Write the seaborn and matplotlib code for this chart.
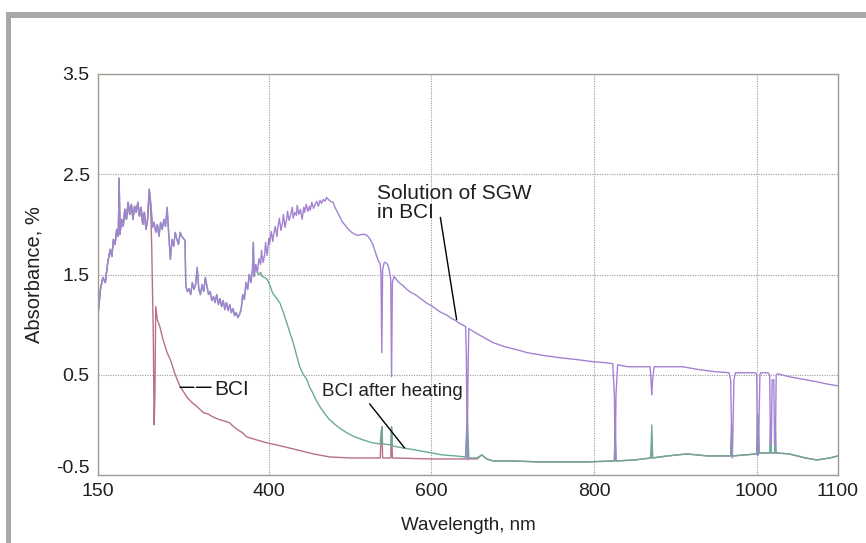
import matplotlib
matplotlib.use("Agg")
import matplotlib.pyplot as plt
import matplotlib.transforms as mtransforms
import pandas as pd
import seaborn as sns
from matplotlib.patches import Rectangle

# ---------------- data ----------------
# shared noisy UV part of all three spectra
common_wl = [190, 193, 196, 199, 202, 205, 207, 209, 211, 213, 215, 216, 217, 219, 221, 223, 225, 227, 229, 231,
             233, 235, 237, 239, 241, 243, 245, 247, 249, 251, 253]
common_abs = [1.10, 1.35, 1.47, 1.42, 1.62, 1.75, 1.68, 1.85, 1.80, 1.95, 1.88, 2.46, 1.90, 2.05, 1.98, 2.15, 2.05, 2.22, 2.10, 2.20,
              2.05, 2.18, 2.12, 2.22, 2.08, 2.17, 2.00, 2.12, 1.95, 2.05, 2.35]

# part shared by "Solution of SGW in BCI" and "BCI after heating"
mid_wl = [255, 257, 259, 261, 263, 265, 267, 269, 271, 273, 275, 277, 279, 281, 283, 285, 287, 289, 291, 293,
          295, 297, 298, 300, 302, 304, 306, 308, 310, 312, 314, 316, 318, 320, 322, 324, 326, 328, 330, 332,
          334, 336, 338, 340, 342, 344, 346, 348, 350, 352, 354, 356, 358, 360, 362, 364, 366, 368, 370, 372,
          374, 376, 378, 380, 381, 382, 384, 386]
mid_abs = [2.20, 1.97, 2.02, 1.92, 2.00, 1.88, 2.02, 1.95, 2.05, 1.98, 2.17, 1.90, 1.65, 1.85, 1.78, 1.92, 1.85, 1.80, 1.92, 1.88,
           1.86, 1.84, 1.38, 1.33, 1.36, 1.30, 1.42, 1.35, 1.40, 1.57, 1.35, 1.30, 1.40, 1.33, 1.47, 1.38, 1.30, 1.33, 1.24, 1.28,
           1.22, 1.30, 1.20, 1.26, 1.18, 1.24, 1.15, 1.22, 1.14, 1.20, 1.12, 1.16, 1.09, 1.12, 1.07, 1.10, 1.15, 1.30, 1.25, 1.42,
           1.35, 1.50, 1.42, 1.55, 1.82, 1.48, 1.60, 1.52]

# Solution of SGW in BCI
sgw_wl = [388, 390, 391, 393, 395, 396, 398, 400, 401, 403, 405, 406, 408, 410, 411, 413, 415, 417, 418, 420,
          422, 423, 425, 427, 429, 430, 432, 434, 435, 437, 439, 441, 443, 444, 446, 448, 450, 451, 453, 455,
          457, 459, 461, 463, 465, 467, 469, 471, 473, 476,
          479, 482, 486, 490, 494, 498, 502, 506, 510, 514, 518, 521, 524, 528, 532,
          535, 537, 538, 539, 540, 542, 544, 546, 548, 550, 551, 552, 554, 557, 560, 565, 570, 575, 580, 585,
          590, 595, 600, 605, 610, 615, 620, 625, 630, 635, 640, 642, 643, 644, 645, 646, 650, 656, 665, 676,
          690, 705, 718, 740, 758, 780, 799, 815, 823, 825, 826, 827, 829, 841, 855, 869, 870, 871, 872, 874,
          890, 909, 930, 950, 966, 968, 969, 970, 971, 972, 974, 985, 998, 1000, 1001, 1002, 1004, 1005, 1014, 1016,
          1017, 1018, 1019, 1021, 1022, 1023, 1024, 1026, 1040, 1060, 1074, 1085, 1092, 1100]
sgw_abs = [1.66, 1.60, 1.74, 1.62, 1.70, 1.82, 1.69, 1.86, 1.80, 1.93, 1.83, 1.90, 1.98, 1.88, 1.96, 2.06, 1.94, 2.02, 2.10, 1.97,
           2.05, 2.13, 2.04, 2.10, 2.17, 2.06, 2.12, 2.09, 2.19, 2.10, 2.15, 2.05, 2.17, 2.12, 2.20, 2.13, 2.18, 2.14, 2.22, 2.16,
           2.20, 2.23, 2.18, 2.24, 2.21, 2.25, 2.23, 2.27, 2.25, 2.23,
           2.22, 2.16, 2.10, 2.03, 1.99, 1.95, 1.92, 1.90, 1.89, 1.90, 1.90, 1.89, 1.86, 1.80, 1.70,
           1.63, 1.61, 1.50, 0.72, 1.55, 1.62, 1.62, 1.60, 1.55, 1.45, 0.48, 1.42, 1.48, 1.45, 1.42, 1.39, 1.35, 1.32, 1.30, 1.27,
           1.24, 1.21, 1.19, 1.16, 1.13, 1.11, 1.09, 1.06, 1.04, 1.01, 0.99, 0.98, 0.70, -0.35, 0.50, 0.96, 0.94, 0.91, 0.87, 0.82,
           0.78, 0.75, 0.72, 0.69, 0.67, 0.65, 0.63, 0.62, 0.61, 0.30, -0.35, 0.30, 0.60, 0.58, 0.58, 0.58, 0.45, 0.30, 0.45, 0.58,
           0.58, 0.58, 0.55, 0.53, 0.52, 0.45, 0.00, -0.33, 0.00, 0.45, 0.52, 0.52, 0.52, 0.50, -0.30, -0.30, 0.50, 0.52, 0.52, 0.50,
           -0.20, -0.20, 0.45, 0.45, -0.20, -0.20, 0.50, 0.51, 0.48, 0.45, 0.43, 0.41, 0.40, 0.39]

# BCI after heating
heat_wl = [388, 390, 392, 395, 398, 401, 405, 410, 414, 418, 422, 426, 430, 434, 438, 442, 447, 450, 454, 458,
           463, 469, 475, 485, 496, 506, 516, 528, 537, 538, 539, 540, 550, 551, 552, 565, 580, 600, 614, 630,
           642, 643, 644, 645, 646, 656, 662, 668, 676, 700, 734, 760, 789, 825, 826, 827, 850, 870, 871, 872,
           890, 914, 940, 968, 969, 970, 985, 1000, 1001, 1002, 1003, 1016, 1017, 1018, 1022, 1023, 1024, 1040, 1060, 1074,
           1090, 1100]
heat_abs = [1.50, 1.52, 1.48, 1.47, 1.45, 1.40, 1.31, 1.26, 1.21, 1.12, 1.02, 0.92, 0.82, 0.70, 0.58, 0.51, 0.45, 0.38, 0.32, 0.25,
            0.18, 0.11, 0.05, -0.02, -0.08, -0.12, -0.15, -0.18, -0.19, -0.10, -0.02, -0.19, -0.20, -0.02, -0.21, -0.23, -0.25, -0.28, -0.30, -0.31,
            -0.32, -0.10, 0.10, -0.10, -0.33, -0.33, -0.30, -0.34, -0.36, -0.36, -0.37, -0.37, -0.37, -0.36, 0.10, -0.36, -0.35, -0.33, 0.00, -0.33,
            -0.31, -0.29, -0.31, -0.31, 0.00, -0.31, -0.30, -0.29, 0.10, 0.10, -0.28, -0.28, 0.00, -0.28, -0.28, 0.00, -0.28, -0.29, -0.33, -0.35,
            -0.33, -0.31]

# BCI
bci_wl = [255, 256, 258, 259, 260, 261, 263, 266, 270, 275, 279, 285, 291, 296, 300, 306, 312, 320, 325, 331,
          340, 345, 352, 357, 362, 368, 373, 385, 398, 415, 435, 455, 475, 500, 537, 538, 539, 540, 550, 551,
          552, 600, 642, 643, 644, 645, 656, 662, 668, 676, 700, 734, 760, 789, 825, 826, 827, 850, 870, 871,
          872, 890, 914, 940, 968, 969, 970, 985, 1000, 1001, 1002, 1003, 1016, 1024, 1040, 1060, 1074, 1090, 1100]
bci_abs = [2.10, 1.80, 0.90, 0.00, 0.30, 1.18, 1.05, 0.98, 0.85, 0.72, 0.65, 0.50, 0.38, 0.32, 0.27, 0.22, 0.18, 0.12, 0.11, 0.08,
           0.05, 0.04, 0.02, -0.02, -0.05, -0.08, -0.12, -0.15, -0.18, -0.21, -0.25, -0.29, -0.32, -0.33, -0.33, -0.15, -0.02, -0.33, -0.33, -0.02,
           -0.33, -0.34, -0.34, -0.20, 0.00, -0.34, -0.34, -0.30, -0.34, -0.36, -0.36, -0.37, -0.37, -0.37, -0.36, -0.10, -0.36, -0.35, -0.33, -0.10,
           -0.33, -0.31, -0.29, -0.31, -0.31, -0.10, -0.31, -0.30, -0.29, -0.10, -0.10, -0.28, -0.28, -0.28, -0.29, -0.33, -0.35, -0.33, -0.31]

series_names = ["BCI", "BCI after heating", "Solution of SGW in BCI"]
series_colors = ["#b87085", "#6aaa9c", "#a482d2"]

xtick_pos = [190, 400, 600, 800, 1000, 1100]
xtick_labels = ["150", "400", "600", "800", "1000", "1100"]
ytick_vals = [-0.5, 0.5, 1.5, 2.5, 3.5]
ytick_labels = ["-0.5", "0.5", "1.5", "2.5", "3.5"]

# ---------------- build long table ----------------
parts = [
    pd.DataFrame({"wl": common_wl + bci_wl, "abs": common_abs + bci_abs, "series": series_names[0]}),
    pd.DataFrame({"wl": common_wl + mid_wl + heat_wl, "abs": common_abs + mid_abs + heat_abs, "series": series_names[1]}),
    pd.DataFrame({"wl": common_wl + mid_wl + sgw_wl, "abs": common_abs + mid_abs + sgw_abs, "series": series_names[2]}),
]
df = pd.concat(parts, ignore_index=True)

# ---------------- style ----------------
sns.set_theme(style="white")
plt.rcParams["font.family"] = ["Liberation Sans", "DejaVu Sans"]
TXT = "#231f20"

W, H = 866, 543
fig = plt.figure(figsize=(W / 100, H / 100), dpi=100)
fig.patch.set_facecolor("white")

# grey frame around the panel
frame_col = "#a7a8ab"
fig.patches.append(Rectangle((6 / W, 1 - 18 / H), 1 - 6 / W, 6 / H, transform=fig.transFigure,
                             facecolor=frame_col, edgecolor="none", zorder=0))
fig.patches.append(Rectangle((6 / W, 0), 5 / W, 1 - 12 / H, transform=fig.transFigure,
                             facecolor=frame_col, edgecolor="none", zorder=0))

ax = fig.add_axes([98 / W, 1 - 475 / H, 740 / W, 401 / H])

sns.lineplot(data=df, x="wl", y="abs", hue="series", hue_order=series_names,
             palette=dict(zip(series_names, series_colors)), estimator=None, sort=False,
             linewidth=1.0, legend=False, ax=ax)

ax.set_xlim(190, 1100)
ax.set_ylim(-0.5, 3.5)
ax.set_xticks(xtick_pos)
ax.set_xticklabels(xtick_labels)
ax.set_yticks(ytick_vals)
ax.set_yticklabels(ytick_labels)
ax.tick_params(axis="both", length=0, labelsize=14, colors=TXT)
ax.tick_params(axis="x", pad=6)
ax.tick_params(axis="y", pad=6)

# the bottom y label sits a little above the axis line in the reference
lab0 = ax.get_yticklabels()[0]
lab0.set_transform(lab0.get_transform() + mtransforms.ScaledTranslation(0, 6 / 72, fig.dpi_scale_trans))

ax.grid(True, color="#9a9a9a", linestyle=(0, (1, 1.2)), linewidth=0.8)
for s in ax.spines.values():
    s.set_color("#a09a92")
    s.set_linewidth(1.0)
    s.set_visible(True)

ax.set_xlabel("Wavelength, nm", fontsize=13.5, color=TXT, labelpad=12)
ax.set_ylabel("Absorbance, %", fontsize=14.5, color=TXT, labelpad=9)

# annotations
ax.text(533, 2.40, "Solution of SGW\nin BCI", fontsize=15, color=TXT, ha="left", va="top", linespacing=0.95)
ax.annotate("", xy=(631, 1.05), xytext=(611, 2.07),
            arrowprops=dict(arrowstyle="-", color="black", lw=1.0, shrinkA=0, shrinkB=0))

ax.text(465, 0.33, "BCI after heating", fontsize=13.5, color=TXT, ha="left", va="center")
ax.annotate("", xy=(567, -0.23), xytext=(524, 0.21),
            arrowprops=dict(arrowstyle="-", color="black", lw=1.0, shrinkA=0, shrinkB=0))

ax.text(333, 0.35, "BCI", fontsize=15, color=TXT, ha="left", va="center")
ax.annotate("", xy=(308, 0.375), xytext=(291, 0.375),
            arrowprops=dict(arrowstyle="-", color="black", lw=1.0, shrinkA=0, shrinkB=0))
ax.annotate("", xy=(329, 0.375), xytext=(311, 0.375),
            arrowprops=dict(arrowstyle="-", color="black", lw=1.0, shrinkA=0, shrinkB=0))

fig.savefig("out.png", dpi=100)
